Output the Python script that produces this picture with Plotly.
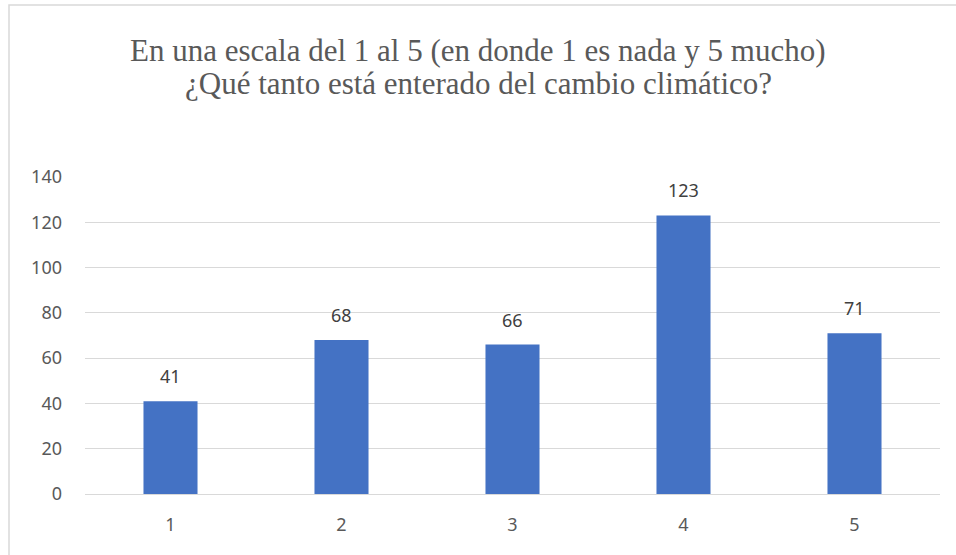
import plotly.graph_objects as go

categories = ["1", "2", "3", "4", "5"]
values = [41, 68, 66, 123, 71]
y_ticks = [0, 20, 40, 60, 80, 100, 120, 140]

title_lines = ["En una escala del 1 al 5 (en donde 1 es nada y 5 mucho)",
               "¿Qué tanto está enterado del cambio climático?"]

W, H = 956, 555
L, R, T, B = 85, 16, 177, 61
PH = H - T - B
PW = W - L - R

fig = go.Figure()
fig.add_trace(go.Bar(
    x=categories, y=values,
    marker=dict(color="#4472C4", line=dict(width=0)),
    hoverinfo="x+y",
))

for i, v in enumerate(values):
    fig.add_annotation(x=i, y=v, text=str(v), showarrow=False,
                       yanchor="bottom", yshift=11,
                       font=dict(family="Noto Sans", size=18, color="#404040"))

# title as two lines, centred on the page, with Word-like line spacing
for line, yc in zip(title_lines, [50, 83]):
    fig.add_annotation(xref="paper", yref="paper", x=(W / 2 - L) / PW, xanchor="center",
                       y=(H - B - yc) / PH, yanchor="middle", text=line,
                       showarrow=False,
                       font=dict(family="Liberation Serif", size=31, color="#595959"))

fig.update_layout(
    width=W, height=H,
    paper_bgcolor="white", plot_bgcolor="white",
    margin=dict(l=L, r=R, t=T, b=B),
    bargap=0.684,
    showlegend=False,
    xaxis=dict(type="category", showgrid=False, showline=False, ticks="",
               ticklabelstandoff=18,
               tickfont=dict(family="Noto Sans", size=18, color="#595959")),
    yaxis=dict(range=[0, 140], tickvals=y_ticks, showgrid=True, gridcolor="#d9d9d9",
               gridwidth=1, zeroline=True, zerolinecolor="#d9d9d9", zerolinewidth=1,
               showline=False, ticks="", ticklabelstandoff=22,
               tickfont=dict(family="Noto Sans", size=18, color="#595959")),
    shapes=[dict(type="rect", xref="paper", yref="paper",
                 x0=(9 - L) / PW, x1=1.1, y0=-0.5, y1=(H - B - 5) / PH,
                 line=dict(color="#d9d9d9", width=1.5), fillcolor="rgba(0,0,0,0)",
                 layer="below")],
)

fig.write_html("out.html", config={"displayModeBar": False},
               post_script="document.body.style.margin='0';document.body.style.overflow='hidden';")
